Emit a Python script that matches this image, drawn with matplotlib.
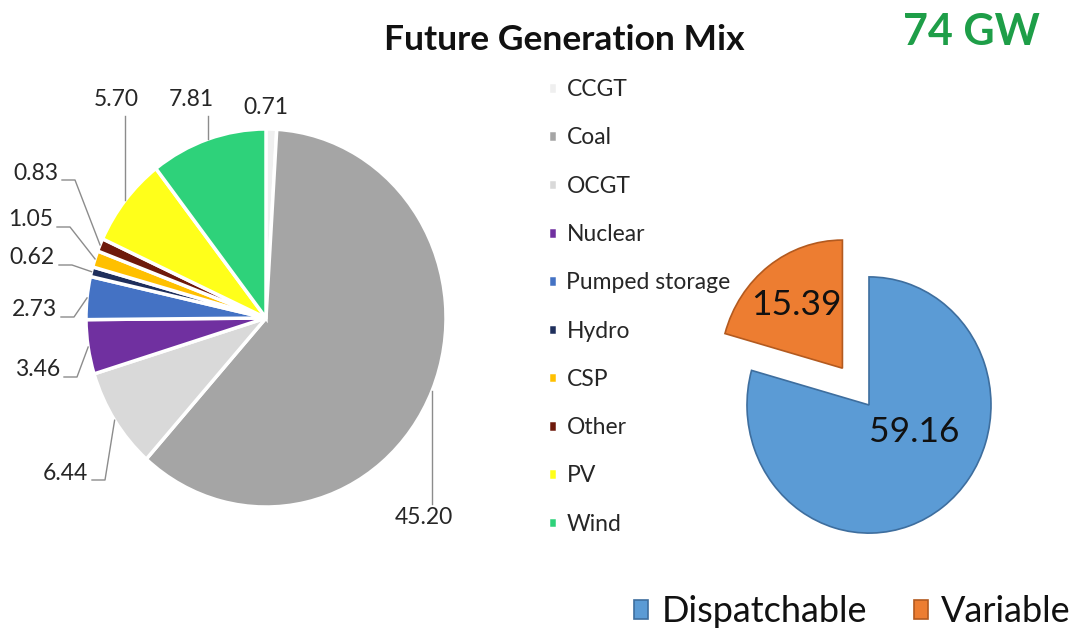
import numpy as np
import matplotlib.pyplot as plt

plt.rcParams['font.family'] = ['Lato', 'DejaVu Sans']

# generation capacity by technology (GW)
techs = ['CCGT', 'Coal', 'OCGT', 'Nuclear', 'Pumped storage', 'Hydro',
         'CSP', 'Other', 'PV', 'Wind']
capacity = [0.71, 45.20, 6.44, 3.46, 2.73, 0.62, 1.05, 0.83, 5.70, 7.81]
tech_colors = ['#EFEFEF', '#A5A5A5', '#D9D9D9', '#7030A0', '#4472C4',
               '#1F2F5C', '#FFC000', '#6E1A0C', '#FFFF1A', '#2ED27A']

# dispatchable vs variable split (GW)
groups = ['Dispatchable', 'Variable']
group_values = [59.16, 15.39]
group_colors = ['#5B9BD5', '#ED7D31']
group_edges = ['#3E6E9E', '#B35A1F']

W, H = 1077, 639
SY = 1.05  # pies come out a little taller than wide
fig = plt.figure(figsize=(W / 100, H / 100), dpi=100)
ax = fig.add_axes([0, 0, 1, 1])


def py(y):
    # pixel row (top-down) to axis y (bottom-up, stretched)
    return (H - y) / SY


txt_col = '#262626'
line_col = '#8C8C8C'

# left pie: full mix
cx, cy, r = 266, py(318), 180
wedges, _ = ax.pie(capacity, colors=tech_colors, startangle=90, counterclock=False,
                   center=(cx, cy), radius=r,
                   wedgeprops=dict(edgecolor='white', linewidth=2.5))

# label anchor (pixel coords) and which way the leader leaves the text
label_pos = [(266, 108, 'top'), (424, 518, 'bottom'), (88, 473, 'side'),
             (60, 370, 'side'), (57, 310, 'side'), (55, 258, 'side'),
             (53, 220, 'side'), (58, 173, 'side'), (116, 100, 'top'),
             (191, 100, 'top')]
for w, v, (tx, ty, kind) in zip(wedges, capacity, label_pos):
    mid = np.deg2rad((w.theta1 + w.theta2) / 2)
    axp, ayp = cx + r * np.cos(mid), cy + r * np.sin(mid)
    lab = f'{v:.2f}'
    if kind == 'side':
        ax.text(tx, py(ty), lab, fontsize=16.5, ha='right', va='center', color=txt_col)
        yb = py(ty + 7)
        ax.plot([tx + 4, tx + 17, axp], [yb, yb, ayp], color=line_col, lw=1)
    elif kind == 'top':
        ax.text(tx, py(ty), lab, fontsize=16.5, ha='center', va='center', color=txt_col)
        if v > 1:
            ax.plot([axp, axp], [py(ty + 16), ayp], color=line_col, lw=1)
    else:
        ax.text(tx, py(ty), lab, fontsize=16.5, ha='center', va='center', color=txt_col)
        ax.plot([axp, axp], [py(ty - 14), ayp], color=line_col, lw=1)

# right pie: dispatchable vs variable, variable pulled out
rcx, rcy_px, rr = 869, 405, 122
gw, _ = ax.pie(group_values, colors=group_colors, startangle=90, counterclock=False,
               explode=[0, 44], center=(rcx, py(rcy_px)), radius=rr,
               wedgeprops=dict(linewidth=1.2))
for w, ec in zip(gw, group_edges):
    w.set_edgecolor(ec)
ax.text(rcx + 45, py(rcy_px + 27), f'{group_values[0]:.2f}', fontsize=25.5,
        ha='center', va='center', color='#111111')
ax.text(rcx - 73, py(rcy_px - 100), f'{group_values[1]:.2f}', fontsize=25.5,
        ha='center', va='center', color='#111111')

ax.set_xlim(0, W)
ax.set_ylim(0, H / SY)
ax.set_aspect('auto')
ax.axis('off')

ax.legend(wedges, techs, loc='upper left', bbox_to_anchor=(539 / W, 1 - 70 / H),
          frameon=False, fontsize=16.5, handlelength=0.4, handleheight=0.4,
          handletextpad=0.4, labelspacing=1.19, borderaxespad=0,
          labelcolor=txt_col)
fig.legend(gw, groups, loc='center left', bbox_to_anchor=(634 / W, 1 - 612 / H), ncol=2,
           frameon=False, fontsize=26, handlelength=0.4, handleheight=0.4,
           handletextpad=0.36, columnspacing=1.3, borderaxespad=0, borderpad=0,
           labelcolor='#111111')

ax.text(564, py(40), 'Future Generation Mix', fontsize=25.5, fontweight='bold',
        ha='center', va='center', color='#111111')
ax.text(971, py(32), '74 GW', fontsize=31, fontweight='bold',
        ha='center', va='center', color='#1E9E48')

fig.savefig('out.png', dpi=100, facecolor='white')
